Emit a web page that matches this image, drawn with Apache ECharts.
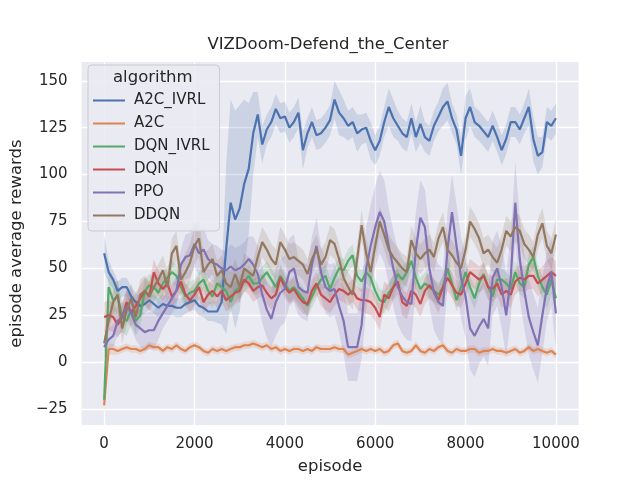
<!DOCTYPE html>
<html>
<head>
<meta charset="utf-8">
<script src="https://cdn.jsdelivr.net/npm/echarts@6/dist/echarts.min.js"></script>
<style>
html, body { margin: 0; padding: 0; background: #fff; }
#main { width: 640px; height: 480px; }
</style>
</head>
<body>
<div id="main"></div>
<script>
// episodes 0, 100, ..., 10000
var episodes = [];
for (var e = 0; e <= 10000; e += 100) episodes.push(e);

var names = ['A2C_IVRL', 'A2C', 'DQN_IVRL', 'DQN', 'PPO', 'DDQN'];
var colors = ['#4c72b0', '#dd8452', '#55a868', '#c44e52', '#8172b3', '#937860'];
var xTicks = [0, 2000, 4000, 6000, 8000, 10000];
var yTicks = [-25, 0, 25, 50, 75, 100, 125, 150];

// mean episode reward, one value every 100 episodes
var a2cIvrl = [
  58, 48, 44, 38, 40, 40, 35, 32, 30, 31,
  33, 31, 29, 31, 30, 30, 29, 29, 31, 32,
  33, 30, 29, 27, 27, 27, 32, 60, 85, 76,
  82, 95, 103, 122, 132, 116, 124, 128, 135, 130,
  131, 125, 128, 133, 113, 122, 128, 121, 122, 125,
  129, 140, 133, 130, 126, 128, 122, 124, 125, 118,
  113, 118, 128, 136, 130, 126, 122, 120, 130, 120,
  127, 120, 118, 126, 131, 136, 139, 130, 124, 110,
  130, 136, 128, 126, 123, 120, 126, 120, 113, 119,
  128, 128, 124, 130, 136, 119, 110, 112, 128, 126,
  130
];
var a2c = [
  -23, 7, 7, 6, 7, 8, 7, 7, 6, 7,
  9, 8, 8, 6, 8, 7, 9, 7, 6, 8,
  9, 8, 6, 5, 7, 6, 7, 6, 7, 8,
  8, 9, 9, 10, 9, 8, 9, 7, 8, 6,
  7, 6, 7, 7, 6, 7, 6, 8, 7, 7,
  7, 8, 7, 7, 4, 5, 6, 7, 6, 7,
  6, 7, 5, 6, 9, 10, 6, 5, 6, 9,
  6, 5, 7, 6, 8, 9, 6, 5, 7, 6,
  6, 7, 7, 5, 6, 6, 7, 6, 6, 5,
  6, 7, 5, 6, 8, 6, 7, 6, 5, 6,
  4
];
var dqnIvrl = [
  -20, 40, 33, 35, 24, 22, 28, 22, 25, 38,
  41, 40, 37, 42, 45, 48, 46, 40, 35, 37,
  38, 42, 44, 38, 35, 42, 40, 38, 32, 38,
  40, 43, 46, 42, 42, 45, 48, 44, 40, 46,
  42, 38, 40, 37, 34, 30, 35, 40, 44, 46,
  39, 45, 50, 49, 54, 57, 46, 43, 48, 45,
  38, 33, 32, 37, 40, 47, 44, 48, 54, 45,
  39, 42, 40, 38, 36, 40, 50, 42, 33, 40,
  48, 40, 34, 42, 47, 40, 35, 44, 44, 42,
  39, 48, 42, 40, 52, 56, 46, 40, 36, 44,
  34
];
var dqn = [
  24, 25, 24, 20, 24, 32, 26, 30, 34, 38,
  35, 48, 42, 39, 42, 35, 38, 43, 36, 33,
  36, 40, 32, 36, 38, 35, 38, 33, 35, 37,
  38, 44, 42, 38, 40, 41, 37, 34, 36, 45,
  40, 37, 39, 35, 32, 31, 38, 42, 36, 34,
  32, 36, 39, 38, 36, 38, 34, 33, 33, 32,
  29, 24, 36, 34, 40, 43, 32, 30, 38, 36,
  31, 38, 41, 38, 33, 40, 45, 41, 37, 36,
  42, 48, 46, 44, 46, 40, 39, 42, 36, 38,
  36, 43, 45, 44, 46, 46, 42, 44, 46, 48,
  46
];
var ppo = [
  8, 12, 14, 22, 24, 30, 26, 20, 18, 16,
  17, 17, 22, 26, 30, 34, 38, 52, 56, 57,
  63, 58, 60, 55, 53, 52, 50, 49, 51, 49,
  50, 52, 55, 52, 47, 36, 28, 23, 32, 37,
  39, 48, 50, 40, 38, 37, 52, 62, 48, 40,
  38, 39, 30, 22, 8, 8, 8, 20, 50, 62,
  72, 80, 75, 62, 50, 40, 35, 32, 31, 60,
  77, 72, 50, 37, 32, 30, 60, 80, 62, 45,
  35, 18, 14, 19, 23, 18, 45, 50, 40, 25,
  45, 85, 55, 38, 24, 16, 9, 25, 40, 48,
  26
];
var ddqn = [
  10, 22, 32, 36, 18, 28, 34, 24, 36, 38,
  35, 40, 44, 49, 40, 58, 62, 44, 48, 53,
  62, 66, 48, 52, 55, 46, 49, 42, 40, 47,
  40, 50, 48, 46, 56, 64, 60, 55, 52, 64,
  60, 55, 56, 54, 52, 47, 55, 60, 52, 56,
  65, 63, 55, 45, 40, 36, 55, 73, 58, 48,
  62, 75, 68, 60, 56, 53, 50, 48, 65, 58,
  55, 58, 60, 56, 66, 72, 60, 57, 53, 50,
  60, 75, 71, 66, 58, 60, 56, 53, 60, 70,
  67, 72, 70, 63, 60, 56, 68, 74, 62, 58,
  68
];

// half width of the shaded band; A2C_IVRL every 100 episodes, the rest every 500
var a2cIvrlSpread = [
  10, 6, 5, 5, 5, 5, 5, 5, 5, 5,
  5, 5, 5, 5, 5, 5, 5, 5, 5, 5,
  5, 5, 5, 5, 5, 6, 12, 45, 55, 58,
  55, 45, 35, 22, 12, 10, 8, 8, 8, 8,
  8, 8, 8, 8, 10, 8, 8, 8, 8, 8,
  8, 10, 12, 10, 8, 8, 10, 8, 8, 10,
  8, 8, 8, 10, 10, 8, 8, 8, 8, 8,
  10, 8, 8, 8, 8, 10, 10, 8, 8, 10,
  12, 10, 8, 8, 8, 8, 8, 8, 8, 8,
  8, 8, 8, 8, 10, 12, 10, 8, 8, 8,
  8
];
var a2cSpread = [3, 2, 2, 2, 2, 2, 2, 2, 2, 2, 2, 2, 2, 2, 2, 2, 2, 2, 2, 2, 2];
var dqnIvrlSpread = [10, 8, 6, 6, 6, 6, 6, 6, 6, 6, 6, 6, 6, 6, 6, 6, 6, 6, 6, 6, 8];
var dqnSpread = [8, 7, 7, 6, 6, 6, 6, 6, 6, 6, 6, 6, 7, 7, 7, 7, 7, 7, 7, 7, 8];
var ppoSpread = [6, 8, 10, 8, 12, 10, 12, 15, 18, 15, 14, 18, 22, 20, 20, 20, 22, 20, 22, 20, 18];
var ddqnSpread = [6, 8, 8, 8, 10, 8, 8, 8, 8, 8, 8, 8, 8, 8, 8, 8, 8, 8, 8, 8, 8];

function perEpisode(coarse) {
  if (coarse.length === episodes.length) return coarse;
  return episodes.map(function (ep, i) { return coarse[Math.round(i / 5)]; });
}

var means = [a2cIvrl, a2c, dqnIvrl, dqn, ppo, ddqn];
var spreads = [a2cIvrlSpread, a2cSpread, dqnIvrlSpread, dqnSpread, ppoSpread, ddqnSpread].map(perEpisode);

// shaded band drawn as one polygon through the axis scales
function bandRenderer(k) {
  return function (params, api) {
    var pts = [];
    for (var i = 0; i < episodes.length; i++) {
      pts.push(api.coord([episodes[i], means[k][i] + spreads[k][i]]));
    }
    for (var j = episodes.length - 1; j >= 0; j--) {
      pts.push(api.coord([episodes[j], means[k][j] - spreads[k][j]]));
    }
    return { type: 'polygon', shape: { points: pts }, style: { fill: colors[k], opacity: 0.2 } };
  };
}

var series = [];
means.forEach(function (m, k) {
  series.push({
    type: 'custom', renderItem: bandRenderer(k), data: [[0, 0]],
    silent: true, z: 1
  });
});
means.forEach(function (m, k) {
  series.push({
    name: names[k], type: 'line', symbol: 'none', showSymbol: false,
    data: episodes.map(function (ep, i) { return [ep, m[i]]; }),
    lineStyle: { color: colors[k], width: 2.2 }, itemStyle: { color: colors[k] },
    z: 2 + k
  });
});

function tickText(v) {
  return v < 0 ? '\u2212' + Math.abs(v) : String(v);
}

var font = 'DejaVu Sans';
var chart = echarts.init(document.getElementById('main'));
chart.setOption({
  animation: false,
  color: colors,
  title: {
    text: 'VIZDoom-Defend_the_Center',
    left: 323, top: 31, textAlign: 'center',
    textStyle: { fontFamily: font, fontSize: 16.5, fontWeight: 'normal', color: '#262626' }
  },
  grid: {
    left: 81, right: 61.5, top: 62, bottom: 54,
    show: true, backgroundColor: '#eaeaf2', borderWidth: 0
  },
  xAxis: {
    type: 'value', min: -500, max: 10500,
    name: 'episode', nameLocation: 'middle', nameGap: 33,
    nameTextStyle: { fontFamily: font, fontSize: 16.5, color: '#262626' },
    axisLine: { show: false },
    axisTick: { show: false, customValues: xTicks },
    axisLabel: { customValues: xTicks, formatter: tickText, fontFamily: font, fontSize: 15, color: '#262626', margin: 12 },
    splitLine: { lineStyle: { color: '#ffffff', width: 1.3 } }
  },
  yAxis: {
    type: 'value', min: -33.5, max: 160,
    name: 'episode average rewards', nameLocation: 'middle', nameGap: 49,
    nameTextStyle: { fontFamily: font, fontSize: 16.5, color: '#262626' },
    axisLine: { show: false },
    axisTick: { show: false, customValues: yTicks },
    axisLabel: { customValues: yTicks, formatter: tickText, fontFamily: font, fontSize: 15, color: '#262626', margin: 14 },
    splitLine: { lineStyle: { color: '#ffffff', width: 1.3 } }
  },
  legend: {
    data: names, orient: 'vertical', left: 88, top: 65, icon: 'rect',
    padding: [28, 10, 8, 5], itemGap: 8, itemWidth: 32, itemHeight: 2,
    backgroundColor: 'rgba(234,234,242,0.85)', borderColor: '#cccccc', borderWidth: 1, borderRadius: 4,
    textStyle: { fontFamily: font, fontSize: 15, color: '#262626', padding: [0, 0, 0, 4] }
  },
  graphic: [{
    type: 'text', left: 113, top: 69, z: 100,
    style: { text: 'algorithm', fontFamily: font, fontSize: 16.5, fill: '#262626' }
  }],
  series: series
});
</script>
</body>
</html>
